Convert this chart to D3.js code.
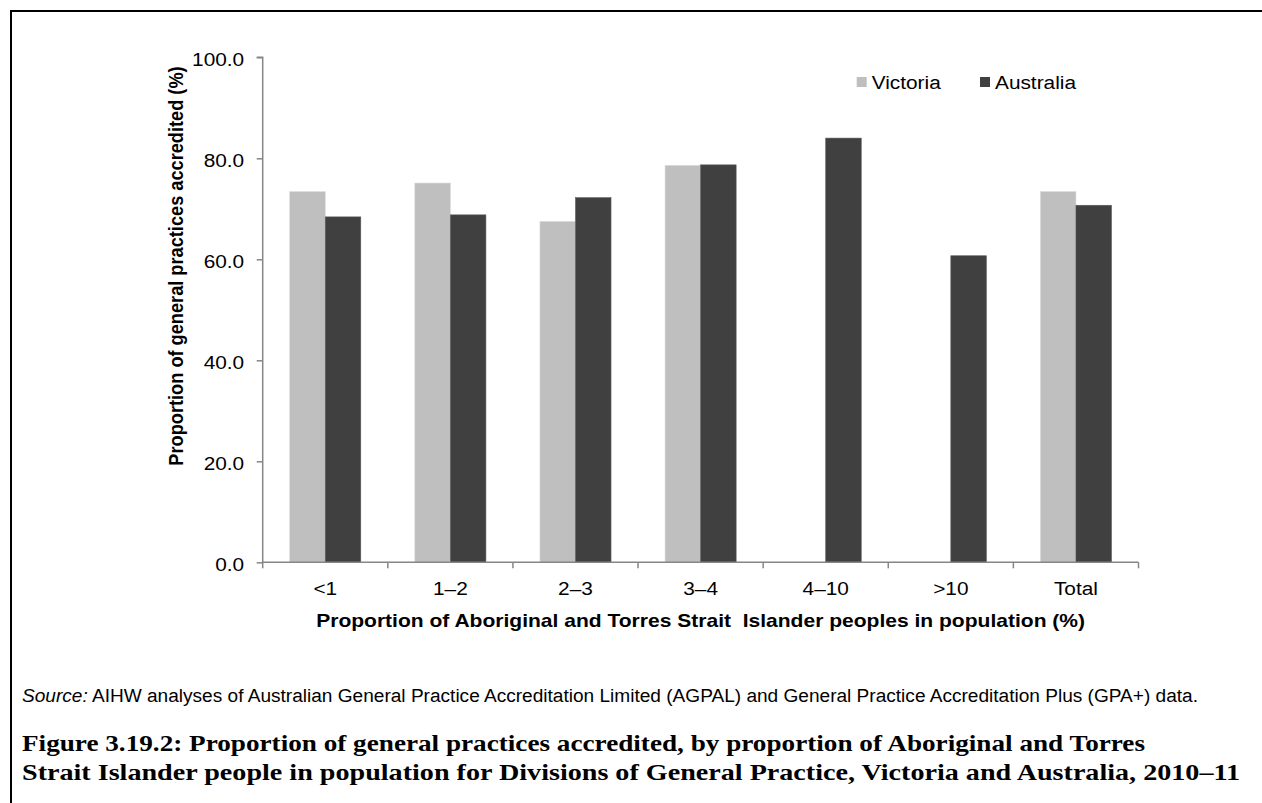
<!DOCTYPE html>
<html>
<head>
<meta charset="utf-8">
<script src="https://cdn.jsdelivr.net/npm/d3@7"></script>
<style>
  html, body { margin: 0; padding: 0; background: #fff; }
  svg { display: block; }
  text { font-family: "Liberation Sans", Arial, sans-serif; fill: #000; }
</style>
</head>
<body>
<script>
const categories = ["<1", "1–2", "2–3", "3–4", "4–10", ">10", "Total"];
const victoria   = [73.4, 75.1, 67.5, 78.6, null, null, 73.4];
const australia  = [68.4, 68.8, 72.2, 78.7, 84.0, 60.7, 70.7];
const seriesNames = ["Victoria", "Australia"];
const yTicks = [0, 20, 40, 60, 80, 100];

const W = 1262, H = 803;
const SX = 1.12;      // chart image is stretched horizontally
const FS = 18.6;      // chart font size
const svg = d3.select("body").append("svg").attr("width", W).attr("height", H);

// outer frame (top and left visible)
svg.append("path").attr("d", `M11,${H} V11 H${W}`).attr("fill", "none")
  .attr("stroke", "#000").attr("stroke-width", 2);

const plot = { left: 262.7, right: 1138.5, top: 57.3, bottom: 562.3 };

const x = d3.scaleBand().domain(categories).range([plot.left, plot.right]).padding(0);
const y = d3.scaleLinear().domain([0, 100]).range([plot.bottom, plot.top]);
const barW = x.bandwidth() * 0.284;
const colors = { Victoria: "#bfbfbf", Australia: "#404040" };

const rows = categories.map((c, i) => ({ cat: c, Victoria: victoria[i], Australia: australia[i] }));

function stretchedText(parent, px, py, str, opts = {}) {
  const t = parent.append("text")
    .attr("transform", `translate(${px},${py}) scale(${SX},1)`)
    .attr("text-anchor", opts.anchor || "start")
    .attr("font-size", opts.size || FS)
    .attr("font-weight", opts.weight || "normal")
    .style("white-space", "pre")
    .text(str);
  return t;
}

const g = svg.append("g");
seriesNames.forEach((s, si) => {
  g.selectAll(null).data(rows.filter(d => d[s] != null)).enter().append("rect")
    .attr("x", d => x(d.cat) + x.bandwidth() / 2 + (si - 1) * barW)
    .attr("y", d => y(d[s]))
    .attr("width", barW)
    .attr("height", d => y(0) - y(d[s]))
    .attr("fill", colors[s])
    .attr("stroke", si === 0 ? "#d9d9d9" : "#5a5a5a")
    .attr("stroke-width", 0.6);
});

// Y axis
const yAxis = d3.axisLeft(y).tickValues(yTicks).tickFormat(d3.format(".1f")).tickSize(6).tickPadding(12);
const yg = svg.append("g").attr("transform", `translate(${plot.left},0)`).call(yAxis);
yg.select(".domain").attr("stroke", "#868686").attr("stroke-width", 1.5).attr("d", `M-6,${plot.top}H0V${plot.bottom}`);
yg.selectAll(".tick line").attr("stroke", "#868686").attr("stroke-width", 1.5);
yg.selectAll(".tick text")
  .attr("x", 0).attr("dy", "0.45em")
  .attr("transform", `translate(-18.5,0) scale(${SX},1)`)
  .attr("font-size", FS).attr("font-family", "Liberation Sans, Arial, sans-serif").attr("fill", "#000");

// X axis (ticks at category boundaries)
const xg = svg.append("g").attr("transform", `translate(0,${plot.bottom})`);
xg.append("line").attr("x1", plot.left).attr("x2", plot.right).attr("y1", 0).attr("y2", 0)
  .attr("stroke", "#868686").attr("stroke-width", 1.5);
const bounds = categories.map(c => x(c)).concat([x(categories[categories.length - 1]) + x.bandwidth()]);
xg.selectAll("line.b").data(bounds).enter().append("line").attr("class", "b")
  .attr("x1", d => d).attr("x2", d => d).attr("y1", 0).attr("y2", 6)
  .attr("stroke", "#868686").attr("stroke-width", 1.5);
categories.forEach(c => {
  stretchedText(xg, x(c) + x.bandwidth() / 2, 32.5, c, { anchor: "middle" });
});

// Axis titles
stretchedText(svg, (plot.left + plot.right) / 2, 627,
  "Proportion of Aboriginal and Torres Strait  Islander peoples in population (%)",
  { anchor: "middle", weight: "bold", size: 18.8 });

svg.append("text").attr("transform", `translate(183,266) scale(${SX},1) rotate(-90)`)
  .attr("text-anchor", "middle").attr("font-size", 18.2).attr("font-weight", "bold")
  .text("Proportion of general practices accredited (%)");

// Legend
const legX = [856.7, 980];
seriesNames.forEach((s, i) => {
  svg.append("rect").attr("x", legX[i]).attr("y", 77).attr("width", 10).attr("height", 10).attr("fill", colors[s]);
  stretchedText(svg, legX[i] + 15, 89, s);
});

// Source
const src = svg.append("text").attr("x", 22).attr("y", 702).attr("font-size", 18)
  .attr("textLength", 1176).attr("lengthAdjust", "spacingAndGlyphs").style("white-space", "pre");
src.append("tspan").attr("font-style", "italic").text("Source:");
src.append("tspan").text(" AIHW analyses of Australian General Practice Accreditation Limited (AGPAL) and General Practice Accreditation Plus (GPA+) data.");

// Caption
const capLines = [
  "Figure 3.19.2: Proportion of general practices accredited, by proportion of Aboriginal and Torres",
  "Strait Islander people in population for Divisions of General Practice, Victoria and Australia, 2010–11"
];
const capY = [751, 780];
const capW = [1123, 1218];
capLines.forEach((t, i) => {
  svg.append("text").attr("x", 22).attr("y", capY[i]).attr("font-size", 23)
    .attr("font-weight", "bold").style("font-family", "'Liberation Serif', 'DejaVu Serif', serif")
    .attr("textLength", capW[i]).attr("lengthAdjust", "spacingAndGlyphs")
    .text(t);
});
</script>
</body>
</html>
